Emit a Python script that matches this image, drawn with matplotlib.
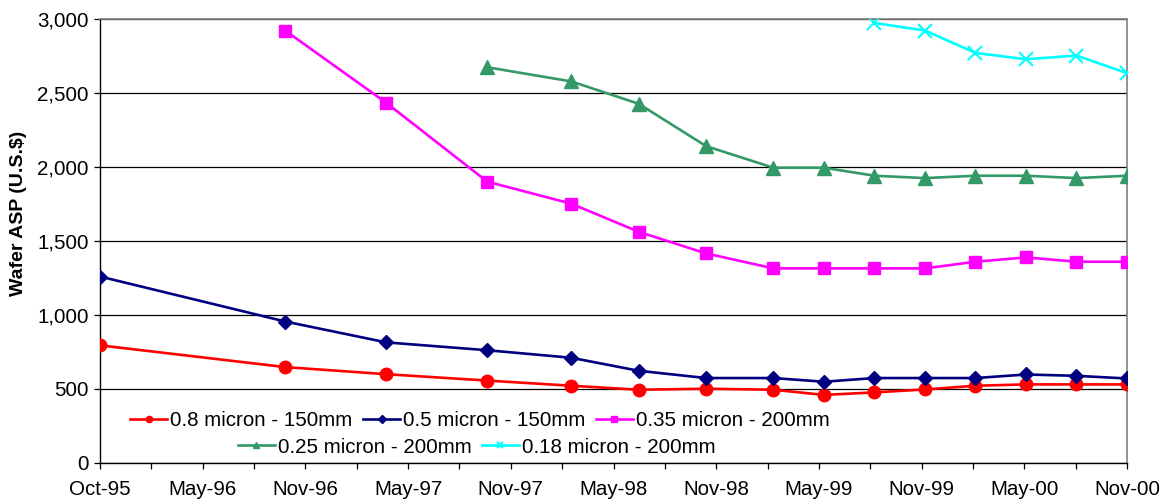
import matplotlib
matplotlib.use('Agg')
import matplotlib.pyplot as plt
import numpy as np
from matplotlib.ticker import FuncFormatter

plt.rcParams['font.family'] = ['Liberation Sans', 'DejaVu Sans']

# x values: months since Oct-95
months_all = [0, 11, 17, 23, 28, 32, 36, 40, 43, 46, 49, 52, 55, 58, 61]
asp_08 = [795, 648, 600, 557, 522, 495, 502, 495, 460, 477, 497, 522, 531, 531, 531]
asp_05 = [1260, 956, 815, 762, 711, 623, 574, 574, 549, 574, 574, 574, 598, 589, 571]
months_035 = [11, 17, 23, 28, 32, 36, 40, 43, 46, 49, 52, 55, 58, 61]
asp_035 = [2922, 2434, 1901, 1752, 1562, 1416, 1315, 1315, 1315, 1315, 1360, 1389, 1360, 1360]
months_025 = [23, 28, 32, 36, 40, 43, 46, 49, 52, 55, 58, 61]
asp_025 = [2674, 2578, 2427, 2141, 1995, 1995, 1941, 1925, 1941, 1941, 1925, 1941]
months_018 = [46, 49, 52, 55, 58, 61]
asp_018 = [2973, 2922, 2771, 2728, 2753, 2634]

series_labels = ['0.8 micron - 150mm', '0.5 micron - 150mm', '0.35 micron - 200mm',
                 '0.25 micron - 200mm', '0.18 micron - 200mm']
x_tick_labels = ['Oct-95', 'May-96', 'Nov-96', 'May-97', 'Nov-97', 'May-98',
                 'Nov-98', 'May-99', 'Nov-99', 'May-00', 'Nov-00']
y_ticks = [0, 500, 1000, 1500, 2000, 2500, 3000]

W, H = 1169, 501
fig = plt.figure(figsize=(W / 100, H / 100), dpi=100)
ax = fig.add_axes([100 / W, 1 - 463 / H, 1027 / W, 444 / H])

FS = 14.8
lw = 1.9
l1, = ax.plot(months_all, asp_08, color='#FF0000', lw=lw, marker='o', ms=9,
              label=series_labels[0], zorder=5)
l2, = ax.plot(months_all, asp_05, color='#000080', lw=lw, marker='D', ms=7.5,
              label=series_labels[1], zorder=5)
l3, = ax.plot(months_035, asp_035, color='#FF00FF', lw=lw, marker='s', ms=8.5,
              label=series_labels[2], zorder=5)
l4, = ax.plot(months_025, asp_025, color='#339966', lw=lw, marker='^', ms=9.5,
              label=series_labels[3], zorder=5)
l5, = ax.plot(months_018, asp_018, color='#00FFFF', lw=lw, marker='x', ms=10, mew=1.5,
              label=series_labels[4], zorder=5)

ax.set_xlim(0, 61)
ax.set_ylim(0, 3000)
ax.set_yticks(y_ticks)
ax.yaxis.set_major_formatter(FuncFormatter(lambda v, p: f'{v:,.0f}'))
xt = np.linspace(0, 61, 21)
ax.set_xticks(xt)
labs = []
for i in range(21):
    labs.append(x_tick_labels[i // 2] if i % 2 == 0 else '')
ax.set_xticklabels(labs)
ax.tick_params(axis='both', labelsize=FS, direction='out', length=4, width=0.9, color='black')
ax.tick_params(axis='y', pad=4)
ax.tick_params(axis='x', pad=8)

ax.grid(axis='y', color='black', lw=0.9)
ax.set_axisbelow(True)
for s in ['top', 'right']:
    ax.spines[s].set_color('#808080')
    ax.spines[s].set_linewidth(1.2)
for s in ['left', 'bottom']:
    ax.spines[s].set_color('black')
    ax.spines[s].set_linewidth(1.0)

ax.set_ylabel('Wafer ASP (U.S.$)', fontsize=14, fontweight='bold')
ax.yaxis.set_label_coords(-0.071, 0.563)

common = dict(frameon=False, fontsize=FS, handlelength=1.8, handletextpad=0.15,
              columnspacing=0.5, markerscale=0.5, borderpad=0, borderaxespad=0)
leg1 = ax.legend(handles=[l1, l2, l3], ncol=3, loc='center',
                 bbox_to_anchor=(0.370, 0.0946), **common)
ax.add_artist(leg1)
leg2 = ax.legend(handles=[l4, l5], ncol=2, loc='center',
                 bbox_to_anchor=(0.3666, 0.036), **common)

fig.savefig('out.png', dpi=100)
